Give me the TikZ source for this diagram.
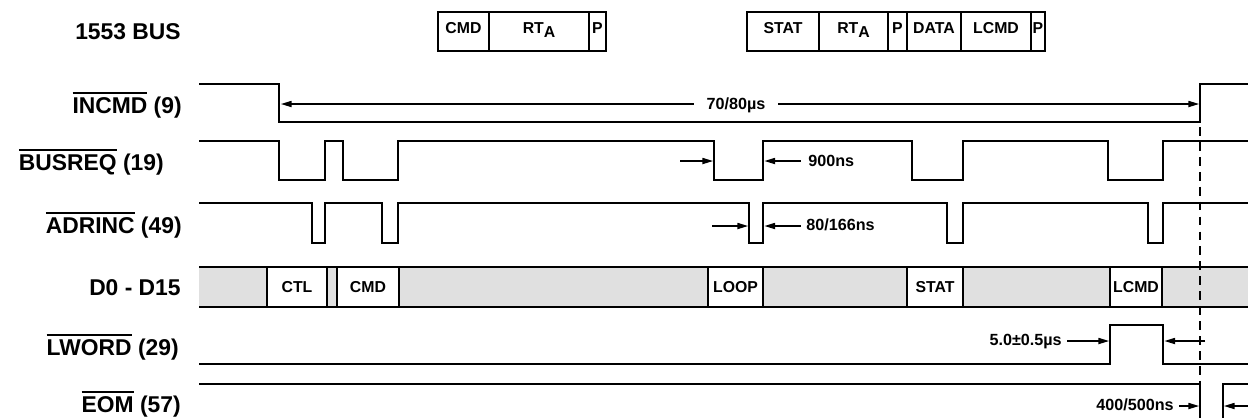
\documentclass[tikz,border=0pt]{standalone}
\usepackage{fontspec}
\setmainfont{Liberation Sans}
\usetikzlibrary{arrows.meta}

\definecolor{busgray}{RGB}{224,224,224}
% active-low signal name: thick bar over the name
\newcommand{\negsig}[1]{\leavevmode\vbox{\hrule height 1.1pt\kern 1.6pt\hbox{#1}}}

\begin{document}
\begin{tikzpicture}[x=0.02cm, y=-0.02cm,
        >={Triangle[length=6pt, width=3.5pt]},
        sig/.style={line width=1.3pt},
        frame/.style={line width=1.1pt},
        dim/.style={line width=0.7pt, ->},
        guide/.style={line width=1.1pt, dash pattern=on 5pt off 3.5pt},
        siglbl/.style={anchor=base east, inner sep=0pt, font=\fontsize{13}{15}\selectfont\bfseries},
        note/.style={inner sep=0pt, text height=6.6pt, text depth=0pt, font=\fontsize{9.2}{11}\selectfont\bfseries},
        fld/.style={inner sep=0pt, text height=6.4pt, text depth=0pt, font=\fontsize{9}{11}\selectfont\bfseries},
    ]
        \useasboundingbox (0,0) rectangle (1248,417);

        % signal names
        \node[siglbl] (Lbus)    at (181,39)  {1553 BUS};
        \node[siglbl] (Lincmd)  at (182,113) {\negsig{INCMD} (9)};
        \node[siglbl] (Lbusreq) at (164,170) {\negsig{BUSREQ} (19)};
        \node[siglbl] (Ladrinc) at (182,233) {\negsig{ADRINC} (49)};
        \node[siglbl] (Ldata)   at (181,295) {D0 - D15};
        \node[siglbl] (Llword)  at (179,355) {\negsig{LWORD} (29)};
        \node[siglbl] (Leom)    at (181,412) {\negsig{EOM} (57)};

        % 1553 bus: receive command
        \draw[frame] (438,12) rectangle (606,51);
        \foreach \x in {489,589} \draw[frame] (\x,12) -- (\x,51);
        \node[fld] (Bcmd) at (463.5,28) {CMD};
        \node[fld] (Brt1) at (539,28)   {RT\raisebox{-0.45ex}{A}};
        \node[fld] (Bp1)  at (597.5,28) {P};

        % 1553 bus: status + data
        \draw[frame] (747,12) rectangle (1045,51);
        \foreach \x in {819,888,907,961,1031} \draw[frame] (\x,12) -- (\x,51);
        \node[fld] (Bstat) at (783,28)   {STAT};
        \node[fld] (Brt2)  at (853.5,28) {RT\raisebox{-0.45ex}{A}};
        \node[fld] (Bp2)   at (897.5,28) {P};
        \node[fld] (Bdata) at (934,28)   {DATA};
        \node[fld] (Blcmd) at (996,28)   {LCMD};
        \node[fld] (Bp3)   at (1038,28)  {P};

        % INCMD
        \draw[sig] (199,84) -| (279,122) -| (1200,84) -- (1248,84);

        % BUSREQ
        \draw[sig] (199,141)
            foreach \a/\b in {279/325, 343/398, 714/763, 912/963, 1108/1163}
            { -| (\a,180) -| (\b,141) } -- (1248,141);

        % ADRINC
        \draw[sig] (199,203)
            foreach \a/\b in {312/325, 382/398, 749/763, 947/963, 1148/1163}
            { -| (\a,243) -| (\b,203) } -- (1248,203);

        % D0 - D15
        \fill[busgray] (199,267) rectangle (1248,307);
        \foreach \a/\b/\t/\n in {267/327/CTL/Dctl, 337/399/CMD/Dcmd, 708/763/LOOP/Dloop,
                                 907/963/STAT/Dstat, 1110/1162/LCMD/Dlcmd} {
            \draw[frame, fill=white] (\a,267) rectangle (\b,307);
            \node[fld] (\n) at ({(\a+\b)/2},287) {\t};
        }
        \draw[frame] (199,267) -- (1248,267) (199,307) -- (1248,307);

        % LWORD
        \draw[sig] (199,364) -| (1110,325) -| (1163,364) -- (1248,364);

        % EOM
        \draw[sig] (199,384) -| (1200,422);
        \draw[sig] (1223,422) |- (1248,384);

        % end of message reference line
        \draw[guide] (1200,127) -- (1200,384);

        % 70/80us
        \coordinate (Tfall) at (281,104);
        \coordinate (Trise) at (1199,104);
        \node[note, inner xsep=7pt] (T7080) at (736,104) {70/80µs};
        \draw[dim] (T7080) -- (Tfall);
        \draw[dim] (T7080) -- (Trise);

        % 900ns
        \coordinate (Rin)   at (680,161);
        \coordinate (Rfall) at (713,161);
        \coordinate (Rrise) at (764.5,161);
        \node[note, anchor=west] (T900) at (808,161) {900ns};
        \draw[dim] (Rin) -- (Rfall);
        \draw[dim] ([xshift=-4pt]T900.west) -- (Rrise);

        % 80/166ns
        \coordinate (Ain)   at (712,226);
        \coordinate (Afall) at (748,226);
        \coordinate (Arise) at (764.5,226);
        \node[note, anchor=west] (T80) at (806,225) {80/166ns};
        \draw[dim] (Ain) -- (Afall);
        \draw[dim] ([xshift=-3pt]T80.west |- Arise) -- (Arise);

        % 5.0+-0.5us
        \coordinate (Wrise) at (1109,341);
        \coordinate (Wfall) at (1164.5,341);
        \coordinate (Wout)  at (1205,341);
        \node[note, anchor=east] (T50) at (1062,340) {5.0±0.5µs};
        \draw[dim] ([xshift=3pt]T50.east |- Wrise) -- (Wrise);
        \draw[dim] (Wout) -- (Wfall);

        % 400/500ns
        \coordinate (Efall) at (1199,406);
        \coordinate (Erise) at (1224,406);
        \coordinate (Eout)  at (1250,406);
        \node[note, anchor=east] (T400) at (1174,405) {400/500ns};
        \draw[dim] ([xshift=3pt]T400.east |- Efall) -- (Efall);
        \draw[dim] (Eout) -- (Erise);
    \end{tikzpicture}
\end{document}
